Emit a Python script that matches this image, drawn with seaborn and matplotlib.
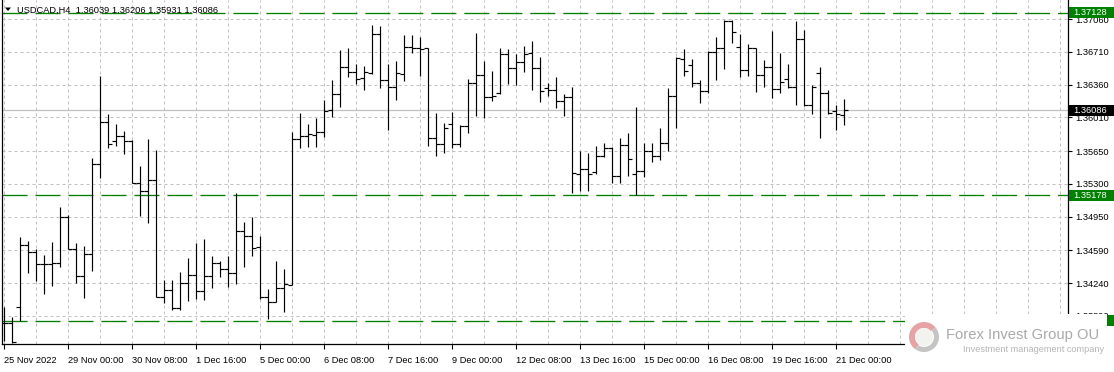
import matplotlib
matplotlib.use("Agg")
import matplotlib.pyplot as plt
import seaborn as sns
import numpy as np
import pandas as pd
from matplotlib.patches import Rectangle, Wedge, Polygon

# ---------------- data ----------------
symbol = "USDCAD,H4"
opens = [1.33820, 1.33816, 1.33983, 1.34648, 1.34577, 1.34445, 1.34445, 1.34459, 1.34950, 1.34605,
         1.34314, 1.34549, 1.35509, 1.35964, 1.35761, 1.35812, 1.35761, 1.35307, 1.35225, 1.35342,
         1.34096, 1.34168, 1.33973, 1.34246, 1.34328, 1.34160, 1.34317, 1.34459, 1.34389, 1.34353,
         1.34798, 1.34744, 1.34630, 1.34096, 1.34043, 1.34186, 1.34221, 1.35776, 1.35812, 1.35819,
         1.35854, 1.36089, 1.36257, 1.36551, 1.36498, 1.36427, 1.36487, 1.36897, 1.36409, 1.36331,
         1.36473, 1.36758, 1.36748, 1.36748, 1.35793, 1.35726, 1.35936, 1.35723, 1.35918, 1.36380,
         1.36463, 1.36231, 1.36267, 1.36684, 1.36534, 1.36605, 1.36694, 1.36534, 1.36327, 1.36302,
         1.36188, 1.36225, 1.35406, 1.35456, 1.35424, 1.35598, 1.35687, 1.35385, 1.35715, 1.35403,
         1.35438, 1.35651, 1.35598, 1.35740, 1.36242, 1.36630, 1.36569, 1.36380, 1.36295, 1.36705,
         1.36748, 1.37039, 1.36758, 1.36516, 1.36748, 1.36459, 1.36545, 1.36316, 1.36417, 1.36338,
         1.36850, 1.36139, 1.36481, 1.36267, 1.36078, 1.36039]
highs = [1.33986, 1.33880, 1.34730, 1.34691, 1.34602, 1.34541, 1.34680, 1.35057, 1.34968, 1.34673,
         1.34641, 1.35580, 1.36455, 1.36046, 1.35940, 1.35868, 1.35769, 1.35491, 1.35780, 1.35662,
         1.34275, 1.34275, 1.34363, 1.34513, 1.34673, 1.34712, 1.34531, 1.34477, 1.34531, 1.35200,
         1.34890, 1.34950, 1.34744, 1.34175, 1.34481, 1.34389, 1.35854, 1.36054, 1.35936, 1.36000,
         1.36196, 1.36409, 1.36729, 1.36748, 1.36580, 1.36559, 1.36996, 1.36989, 1.36580, 1.36612,
         1.36889, 1.36889, 1.36865, 1.36750, 1.36054, 1.35947, 1.36068, 1.35929, 1.36420, 1.36908,
         1.36612, 1.36505, 1.36748, 1.36737, 1.36684, 1.36772, 1.36825, 1.36651, 1.36380, 1.36444,
         1.36260, 1.36338, 1.35651, 1.35627, 1.35705, 1.35734, 1.35690, 1.35787, 1.35840, 1.36118,
         1.35734, 1.35740, 1.35900, 1.36321, 1.36651, 1.36737, 1.36630, 1.36409, 1.36719, 1.36871,
         1.37050, 1.37046, 1.36900, 1.36790, 1.36754, 1.36623, 1.36935, 1.36694, 1.36577, 1.37034,
         1.36943, 1.36356, 1.36545, 1.36302, 1.36142, 1.36206]
lows = [1.33624, 1.33605, 1.33837, 1.34346, 1.34267, 1.34125, 1.34211, 1.34417, 1.34605, 1.34239,
        1.34086, 1.34374, 1.35366, 1.35687, 1.35708, 1.35616, 1.35307, 1.34961, 1.34880, 1.34090,
        1.34026, 1.33954, 1.33954, 1.34054, 1.34072, 1.34061, 1.34192, 1.34310, 1.34203, 1.34229,
        1.34417, 1.34534, 1.34069, 1.33855, 1.34040, 1.33936, 1.34218, 1.35680, 1.35697, 1.35697,
        1.35804, 1.36018, 1.36124, 1.36444, 1.36367, 1.36302, 1.36473, 1.36327, 1.35876, 1.36196,
        1.36399, 1.36701, 1.36455, 1.35708, 1.35601, 1.35627, 1.35687, 1.35697, 1.35840, 1.36025,
        1.36007, 1.36185, 1.36260, 1.36367, 1.36356, 1.36498, 1.36302, 1.36178, 1.36238, 1.36114,
        1.36025, 1.35206, 1.35225, 1.35228, 1.35406, 1.35591, 1.35313, 1.35307, 1.35388, 1.35182,
        1.35377, 1.35537, 1.35555, 1.35651, 1.35894, 1.36455, 1.36338, 1.36167, 1.36274, 1.36409,
        1.36527, 1.36807, 1.36444, 1.36455, 1.36284, 1.36338, 1.36220, 1.36274, 1.36321, 1.36142,
        1.36129, 1.36050, 1.35793, 1.36046, 1.35876, 1.35931]
closes = [1.33812, 1.33613, 1.34648, 1.34577, 1.34445, 1.34448, 1.34459, 1.34950, 1.34608, 1.34314,
          1.34549, 1.35509, 1.35964, 1.35723, 1.35812, 1.35761, 1.35310, 1.35225, 1.35342, 1.34096,
          1.34168, 1.33973, 1.34246, 1.34328, 1.34160, 1.34317, 1.34459, 1.34389, 1.34353, 1.34798,
          1.34744, 1.34613, 1.34090, 1.34043, 1.34186, 1.34229, 1.35776, 1.35812, 1.35830, 1.35854,
          1.36082, 1.36257, 1.36551, 1.36498, 1.36420, 1.36491, 1.36897, 1.36409, 1.36331, 1.36487,
          1.36758, 1.36748, 1.36745, 1.35793, 1.35726, 1.35894, 1.35726, 1.35918, 1.36374, 1.36463,
          1.36225, 1.36238, 1.36684, 1.36534, 1.36605, 1.36687, 1.36534, 1.36292, 1.36302, 1.36188,
          1.36225, 1.35413, 1.35456, 1.35406, 1.35598, 1.35687, 1.35385, 1.35715, 1.35563, 1.35438,
          1.35651, 1.35598, 1.35740, 1.36242, 1.36641, 1.36505, 1.36374, 1.36292, 1.36705, 1.36748,
          1.37039, 1.36918, 1.36516, 1.36748, 1.36459, 1.36545, 1.36316, 1.36388, 1.36338, 1.36844,
          1.36139, 1.36331, 1.36267, 1.36054, 1.36043, 1.36086]

x_labels = ["25 Nov 2022", "29 Nov 00:00", "30 Nov 08:00", "1 Dec 16:00", "5 Dec 00:00",
            "6 Dec 08:00", "7 Dec 16:00", "9 Dec 00:00", "12 Dec 08:00", "13 Dec 16:00",
            "15 Dec 00:00", "16 Dec 08:00", "19 Dec 16:00", "21 Dec 00:00"]
x_label_bars = [0, 8, 16, 24, 32, 40, 48, 56, 64, 72, 80, 88, 96, 104]
y_ticks = [1.37060, 1.36710, 1.36360, 1.36010, 1.35650, 1.35300, 1.34950, 1.34590, 1.34240, 1.33890]
y_tick_labels = ["1.37060", "1.36710", "1.36360", "1.36010", "1.35650",
                 "1.35300", "1.34950", "1.34590", "1.34240", "1.33890"]
levels = [1.37128, 1.35178, 1.33838]
level_labels = ["1.37128", "1.35178", None]   # bottom label is hidden under the watermark
bid = 1.36086
bid_label = "1.36086"
brand = "Forex Invest Group OU"
brand_sub = "Investment management company"

# ---------------- style ----------------
W, H = 1114, 372
sns.set_theme(style="white")
plt.rcParams['font.family'] = ['Liberation Sans', 'DejaVu Sans']
plt.rcParams['axes.linewidth'] = 0.8

GREEN = '#008000'
GRID = '#c0c0c0'
FS = 6.7

df = pd.DataFrame({'bar': np.arange(len(opens)), 'open': opens, 'high': highs,
                   'low': lows, 'close': closes})

fig = plt.figure(figsize=(W / 100, H / 100), dpi=100)
fig.patch.set_facecolor('white')
ax = fig.add_axes([2 / W, 28 / H, 1066 / W, 344 / H])
ax.set_facecolor('white')
ax.set_xlim(-0.1875, 133.06)
ax.set_ylim(1.33591, 1.37263)

# grid
ax.set_xticks(x_label_bars)
ax.set_xticklabels(x_labels, ha='left')
ax.set_xticks(np.arange(0, 134, 4), minor=True)
ax.set_yticks(y_ticks)
ax.set_yticklabels(y_tick_labels)
ax.grid(which='both', axis='x', color=GRID, linestyle=(0, (3, 3)), linewidth=0.72)
ax.grid(which='major', axis='y', color=GRID, linestyle=(0, (3, 3)), linewidth=0.72)
ax.set_axisbelow(True)

# level lines
for lv in levels:
    ax.axhline(lv, color=GREEN, lw=0.95, linestyle=(0, (19, 6)), zorder=1.5)
ax.axhline(bid, color=GRID, lw=0.9, zorder=1.5)

# OHLC bars
ax.vlines(df['bar'], df['low'], df['high'], color='black', lw=0.85, zorder=3)
sns.scatterplot(data=df, x='bar', y='open', marker=0, s=6.5, color='black',
                linewidth=0.85, ax=ax, legend=False, zorder=3)
sns.scatterplot(data=df, x='bar', y='close', marker=1, s=6.5, color='black',
                linewidth=0.85, ax=ax, legend=False, zorder=3)
ax.set_xlabel('')
ax.set_ylabel('')

# spines / ticks
for side in ['left', 'right', 'bottom']:
    ax.spines[side].set_visible(True)
    ax.spines[side].set_color('black')
    ax.spines[side].set_linewidth(0.9)
ax.spines['top'].set_visible(False)
ax.yaxis.tick_right()
ax.tick_params(axis='y', which='major', right=True, left=False, length=3, width=0.8,
               color='black', pad=2.5, labelsize=FS, labelcolor='black')
ax.tick_params(axis='x', which='major', bottom=True, length=3.5, width=0.8,
               color='black', pad=5, labelsize=FS, labelcolor='black')
ax.tick_params(axis='x', which='minor', length=0)

fig.canvas.draw()


def ypix(price):
    return ax.transData.transform((0, price))[1]


# right-side price boxes
def price_box(price, text, fc, z=5):
    yc = ypix(price)
    fig.patches.append(Rectangle((1069, yc - 5.5), 46, 11, transform=None,
                                 facecolor=fc, edgecolor='none', zorder=z))
    if text:
        fig.text(1073.5 / W, yc / H, text, color='white', fontsize=FS,
                 va='center', ha='left', zorder=z + 0.1)


price_box(levels[0], level_labels[0], GREEN)
price_box(levels[1], level_labels[1], GREEN)
price_box(levels[2], level_labels[2], GREEN, z=4)
price_box(bid, bid_label, 'black')

# title
fig.patches.append(Polygon([[5, H - 7.5], [11, H - 7.5], [8, H - 11]], closed=True,
                           transform=None, facecolor='black', edgecolor='none', zorder=6))
fig.text(17 / W, 1 - 10.5 / H,
         f"{symbol}  {opens[-1]:.5f} {highs[-1]:.5f} {lows[-1]:.5f} {closes[-1]:.5f}",
         fontsize=FS, color='black', va='center', ha='left', zorder=6)

# watermark
fig.patches.append(Rectangle((905, 0), 201.5, H - 314, transform=None,
                             facecolor='white', edgecolor='none', zorder=7))
cx, cy = 924, H - 337
fig.patches.append(Wedge((cx, cy), 15, 40, 235, width=6, transform=None,
                         facecolor='#e6a3a3', edgecolor='none', zorder=8))
fig.patches.append(Wedge((cx, cy), 15, 235, 400, width=5, transform=None,
                         facecolor='#c4c4c4', edgecolor='none', zorder=8))
fig.patches.append(Wedge((cx, cy), 9, 0, 360, width=9, transform=None,
                         facecolor='#f2f2ee', edgecolor='none', zorder=8))
fig.text(946 / W, 1 - 334.5 / H, brand, fontsize=10.6, color='#a9a9a9',
         va='center', ha='left', zorder=9)
fig.text(963 / W, 1 - 349 / H, brand_sub, fontsize=6.6, color='#b5b5b5',
         va='center', ha='left', zorder=9)

fig.savefig('out.png', dpi=100, facecolor='white')
